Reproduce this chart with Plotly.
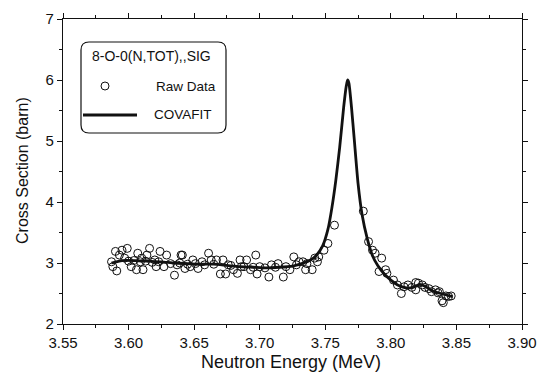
import plotly.graph_objects as go

# Raw data (Neutron energy MeV, cross section barn)
raw_x = [3.587, 3.590, 3.588, 3.591, 3.595, 3.593, 3.599, 3.597, 3.602, 3.606,
         3.607, 3.611, 3.610, 3.614, 3.616, 3.620, 3.621, 3.624, 3.627, 3.629,
         3.635, 3.637, 3.640, 3.641, 3.643, 3.647, 3.649, 3.653, 3.656, 3.661,
         3.663, 3.667, 3.670, 3.672, 3.674, 3.676, 3.680, 3.683, 3.685, 3.688,
         3.690, 3.693, 3.697, 3.698, 3.700, 3.707, 3.709, 3.714, 3.718, 3.723,
         3.726, 3.730, 3.735, 3.736, 3.733, 3.740, 3.742, 3.744, 3.749, 3.752,
         3.757, 3.779, 3.783, 3.786, 3.788, 3.793, 3.791, 3.796, 3.797, 3.802,
         3.805, 3.808, 3.810, 3.813, 3.816, 3.819, 3.819, 3.821, 3.824, 3.826,
         3.829, 3.831, 3.834, 3.836, 3.837, 3.839, 3.840, 3.842, 3.844, 3.846,
         3.600, 3.604, 3.609, 3.613, 3.618, 3.623, 3.632, 3.639, 3.645, 3.651,
         3.658, 3.665, 3.678, 3.686, 3.695, 3.704, 3.712, 3.720, 3.728, 3.745]
raw_y = [3.02, 3.19, 2.94, 2.87, 3.21, 3.13, 3.24, 3.08, 2.94, 2.89,
         3.16, 2.89, 3.08, 3.13, 3.24, 3.05, 2.94, 3.19, 2.94, 3.13,
         2.80, 2.97, 3.13, 3.13, 2.91, 2.94, 3.05, 2.91, 3.02, 3.16,
         3.05, 3.05, 2.82, 3.05, 2.82, 2.97, 2.89, 2.83, 3.05, 2.94,
         3.05, 2.89, 3.13, 2.82, 2.94, 2.77, 2.97, 2.99, 2.77, 2.89,
         3.10, 3.02, 2.89, 2.99, 3.02, 2.89, 3.08, 3.02, 3.21, 3.32,
         3.62, 3.85, 3.35, 3.21, 3.16, 3.08, 2.86, 2.89, 2.83, 2.72,
         2.64, 2.50, 2.61, 2.64, 2.60, 2.56, 2.68, 2.67, 2.64, 2.60,
         2.58, 2.53, 2.56, 2.51, 2.53, 2.38, 2.35, 2.46, 2.45, 2.46,
         3.03, 3.04, 3.02, 3.03, 3.01, 3.02, 2.99, 3.00, 2.98, 2.99,
         2.97, 2.98, 2.96, 2.94, 2.93, 2.92, 2.93, 2.94, 2.97, 3.10]

# COVAFIT curve
fit_x = [3.587, 3.595, 3.605, 3.615, 3.625, 3.635, 3.645, 3.655, 3.665, 3.675,
         3.685, 3.695, 3.705, 3.715, 3.725, 3.732, 3.738, 3.743, 3.748, 3.752,
         3.755, 3.758, 3.761, 3.764, 3.766, 3.767, 3.768, 3.770, 3.772, 3.775,
         3.778, 3.782, 3.786, 3.790, 3.795, 3.800, 3.806, 3.812, 3.817, 3.822,
         3.826, 3.831, 3.838, 3.847]
fit_y = [3.00, 3.04, 3.04, 3.03, 3.02, 3.00, 2.99, 2.98, 2.98, 2.96,
         2.94, 2.93, 2.92, 2.93, 2.95, 2.99, 3.04, 3.12, 3.28, 3.55,
         3.90, 4.35, 4.90, 5.55, 5.90, 6.00, 5.95, 5.55, 5.05, 4.30,
         3.80, 3.40, 3.12, 2.96, 2.82, 2.72, 2.63, 2.59, 2.60, 2.65,
         2.62, 2.55, 2.50, 2.45]

x_ticks = [3.55, 3.60, 3.65, 3.70, 3.75, 3.80, 3.85, 3.90]
y_ticks = [2, 3, 4, 5, 6, 7]

FONT = "Arial, Liberation Sans, sans-serif"
INK = "#111111"

fig = go.Figure()
fig.add_trace(go.Scatter(x=raw_x, y=raw_y, mode="markers", name="Raw Data",
                         marker=dict(symbol="circle-open", size=8, color=INK,
                                     line=dict(width=1, color=INK))))
fig.add_trace(go.Scatter(x=fit_x, y=fit_y, mode="lines", name="COVAFIT",
                         line=dict(color=INK, width=2.8, shape="spline", smoothing=0.6)))

L, R, T, B = 63, 22, 19, 48
W, H = 544, 372
PW, PH = W - L - R, H - T - B

def px(xp):
    return (xp - L) / PW

def py(yp):
    return (H - B - yp) / PH

# rounded legend box
x0, x1, y0, y1, r = 81, 226, 42, 133, 8
path = (f"M {px(x0 + r)},{py(y0)} L {px(x1 - r)},{py(y0)} Q {px(x1)},{py(y0)} {px(x1)},{py(y0 + r)} "
        f"L {px(x1)},{py(y1 - r)} Q {px(x1)},{py(y1)} {px(x1 - r)},{py(y1)} "
        f"L {px(x0 + r)},{py(y1)} Q {px(x0)},{py(y1)} {px(x0)},{py(y1 - r)} "
        f"L {px(x0)},{py(y0 + r)} Q {px(x0)},{py(y0)} {px(x0 + r)},{py(y0)} Z")
shapes = [
    dict(type="path", xref="paper", yref="paper", path=path,
         line=dict(color=INK, width=1.2), fillcolor="white", layer="above"),
    dict(type="line", xref="paper", yref="paper", x0=px(83), x1=px(137),
         y0=py(115), y1=py(115), line=dict(color=INK, width=2.8), layer="above"),
    dict(type="circle", xref="paper", yref="paper", x0=px(101), x1=px(109),
         y0=py(82), y1=py(90), line=dict(color=INK, width=1), layer="above"),
]
ann_font = dict(family=FONT, size=14, color=INK)
item_font = dict(family=FONT, size=13.5, color=INK)
annotations = [
    dict(text="8-O-0(N,TOT),,SIG", xref="paper", yref="paper", x=px(151), y=py(56),
         showarrow=False, font=ann_font, xanchor="center", yanchor="middle"),
    dict(text="Raw Data", xref="paper", yref="paper", x=px(154), y=py(86),
         showarrow=False, font=item_font, xanchor="left", yanchor="middle"),
    dict(text="COVAFIT", xref="paper", yref="paper", x=px(152), y=py(115),
         showarrow=False, font=item_font, xanchor="left", yanchor="middle"),
    dict(text="Neutron Energy (MeV)", xref="paper", yref="paper", x=px(291), y=py(362),
         showarrow=False, font=dict(family=FONT, size=18, color=INK),
         xanchor="center", yanchor="middle"),
    dict(text="Cross Section (barn)", xref="paper", yref="paper", x=px(22), y=py(171),
         showarrow=False, font=dict(family=FONT, size=16, color=INK), textangle=-90,
         xanchor="center", yanchor="middle"),
]

axis_common = dict(showline=True, linecolor=INK, linewidth=1.2, mirror="ticks",
                   ticks="outside", ticklen=5, tickwidth=1, tickcolor=INK,
                   showgrid=False, zeroline=False, automargin=False,
                   tickfont=dict(family=FONT, size=15, color=INK))

fig.update_layout(
    width=W, height=H,
    margin=dict(l=L, r=R, t=T, b=B),
    paper_bgcolor="white", plot_bgcolor="white",
    showlegend=False,
    shapes=shapes, annotations=annotations,
    xaxis=dict(range=[3.55, 3.90], tickvals=x_ticks, tickformat=".2f",
               minor=dict(dtick=0.025, tick0=3.55, ticks="outside", ticklen=3, tickcolor=INK),
               **axis_common),
    yaxis=dict(range=[2, 7], tickvals=y_ticks,
               minor=dict(dtick=0.5, tick0=2, ticks="outside", ticklen=3, tickcolor=INK),
               **axis_common),
)

fig.write_html("out.html", config={"displayModeBar": False},
               post_script="document.body.style.margin='0';document.body.style.overflow='hidden';")
